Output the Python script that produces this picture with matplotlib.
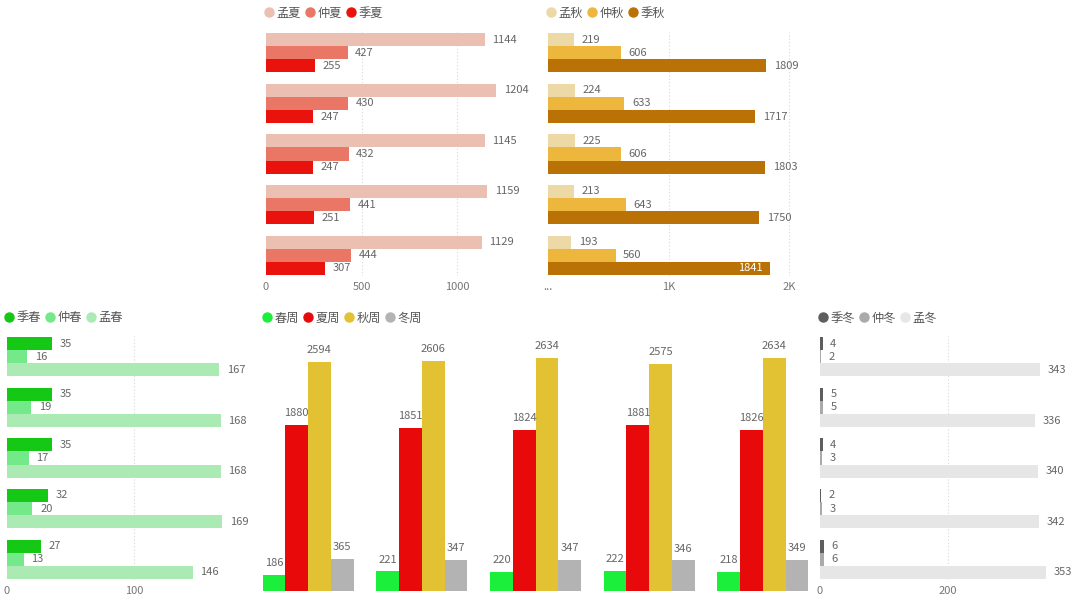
import matplotlib
matplotlib.use("Agg")
import matplotlib.pyplot as plt
from matplotlib.lines import Line2D
import numpy as np

plt.rcParams['font.family'] = ['Noto Sans CJK SC', 'DejaVu Sans']

# ---------------- data ----------------
summer_names = ["孟夏", "仲夏", "季夏"]
summer_meng = [1144, 1204, 1145, 1159, 1129]
summer_zhong = [427, 430, 432, 441, 444]
summer_ji = [255, 247, 247, 251, 307]

autumn_names = ["孟秋", "仲秋", "季秋"]
autumn_meng = [219, 224, 225, 213, 193]
autumn_zhong = [606, 633, 606, 643, 560]
autumn_ji = [1809, 1717, 1803, 1750, 1841]

spring_names = ["季春", "仲春", "孟春"]
spring_ji = [35, 35, 35, 32, 27]
spring_zhong = [16, 19, 17, 20, 13]
spring_meng = [167, 168, 168, 169, 146]

winter_names = ["季冬", "仲冬", "孟冬"]
winter_ji = [4, 5, 4, 2, 6]
winter_zhong = [2, 5, 3, 3, 6]
winter_meng = [343, 336, 340, 342, 353]

week_names = ["春周", "夏周", "秋周", "冬周"]
week_spring = [186, 221, 220, 222, 218]
week_summer = [1880, 1851, 1824, 1881, 1826]
week_autumn = [2594, 2606, 2634, 2575, 2634]
week_winter = [365, 347, 347, 346, 349]

W, H = 1080, 604
fig = plt.figure(figsize=(W / 100, H / 100), dpi=100)
fig.patch.set_facecolor("white")

LABEL_C = "#666666"
TICK_C = "#777777"
LEG_C = "#555555"


def px_axes(x0, y0, x1, y1):
    return fig.add_axes([x0 / W, 1 - y1 / H, (x1 - x0) / W, (y1 - y0) / H])


def clean(ax):
    for s in ax.spines.values():
        s.set_visible(False)
    ax.tick_params(length=0)


def legend(x, y, names, colors, colsp=0.35):
    handles = [Line2D([], [], marker='o', linestyle='none', markersize=6.5,
                      markerfacecolor=c, markeredgecolor=c) for c in colors]
    leg = fig.legend(handles, names, loc='center left',
                     bbox_to_anchor=(x / W, 1 - y / H), ncol=len(names),
                     frameon=False, handletextpad=0.2, columnspacing=colsp,
                     handlelength=0.8, borderpad=0, borderaxespad=0,
                     prop={'size': 8.8})
    for t in leg.get_texts():
        t.set_color(LEG_C)


def hbar_chart(box, series, colors, xmax, ticks, ticklabels, inside_frac=None):
    ax = px_axes(*box)
    clean(ax)
    n = len(series[0])
    g = np.arange(n)
    h = 0.26
    offs = [-h, 0, h]
    for k, (vals, col) in enumerate(zip(series, colors)):
        bars = ax.barh(g + offs[k], vals, height=h, color=col, linewidth=0)
        for b, v in zip(bars, vals):
            yc = b.get_y() + b.get_height() / 2
            if inside_frac is not None and v / xmax > inside_frac:
                ax.annotate(str(v), (v, yc), xytext=(-5, 0), textcoords='offset points',
                            ha='right', va='center', fontsize=8, color='white')
            else:
                ax.annotate(str(v), (v, yc), xytext=(5.5, 0), textcoords='offset points',
                            ha='left', va='center', fontsize=8, color=LABEL_C)
    ax.set_xlim(0, xmax)
    ax.set_ylim(n - 1 + 0.41, -0.41)
    ax.set_yticks([])
    ax.set_xticks(ticks)
    ax.set_xticklabels(ticklabels, fontsize=8, color=TICK_C)
    ax.tick_params(axis='x', pad=4)
    for t in ticks[1:]:
        ax.axvline(t, color='#d8d8d8', linestyle=(0, (1, 2)), linewidth=0.8, zorder=0)
    return ax


# summer (top-left)
summer_colors = ["#ECBFB3", "#EA7766", "#EA120C"]
hbar_chart((266, 32, 530, 276), [summer_meng, summer_zhong, summer_ji], summer_colors,
           1382, [0, 500, 1000], ["0", "500", "1000"])
legend(264, 13, summer_names, summer_colors)

# autumn (top-right)
autumn_colors = ["#EDD9A6", "#EDB73E", "#BA7206"]
hbar_chart((548, 32, 800, 276), [autumn_meng, autumn_zhong, autumn_ji], autumn_colors,
           2090, [0, 1000, 2000], ["...", "1K", "2K"], inside_frac=0.875)
legend(546, 13, autumn_names, autumn_colors)

# spring (bottom-left)
spring_colors = ["#16C816", "#74E98A", "#ABEAB2"]
hbar_chart((7, 336, 250, 580), [spring_ji, spring_zhong, spring_meng], spring_colors,
           191, [0, 100], ["0", "100"])
legend(4, 318, spring_names, spring_colors)

# winter (bottom-right)
winter_colors = ["#5E5E5E", "#AAAAAA", "#E6E6E6"]
hbar_chart((820, 336, 1075, 580), [winter_ji, winter_zhong, winter_meng], winter_colors,
           398, [0, 200], ["0", "200"])
legend(818, 318, winter_names, winter_colors)

# weeks (bottom-middle column chart)
week_colors = ["#1BEF3C", "#E80A0A", "#E2C233", "#B3B3B3"]
ax = px_axes(258, 335, 813, 591)
clean(ax)
g = np.arange(len(week_spring))
bw = 0.2
offs = [-0.3, -0.1, 0.1, 0.3]
for k, (vals, col) in enumerate(zip([week_spring, week_summer, week_autumn, week_winter], week_colors)):
    bars = ax.bar(g + offs[k], vals, width=bw, color=col, linewidth=0)
    for b, v in zip(bars, vals):
        ax.annotate(str(v), (b.get_x() + b.get_width() / 2, v), xytext=(0, 5),
                    textcoords='offset points', ha='center', va='bottom',
                    fontsize=8, color=LABEL_C)
ax.set_xlim(-0.44, 4.44)
ax.set_ylim(0, 2899)
ax.set_xticks([])
ax.set_yticks([])
legend(262, 318, week_names, week_colors)

fig.savefig("out.png", dpi=100, facecolor="white")
